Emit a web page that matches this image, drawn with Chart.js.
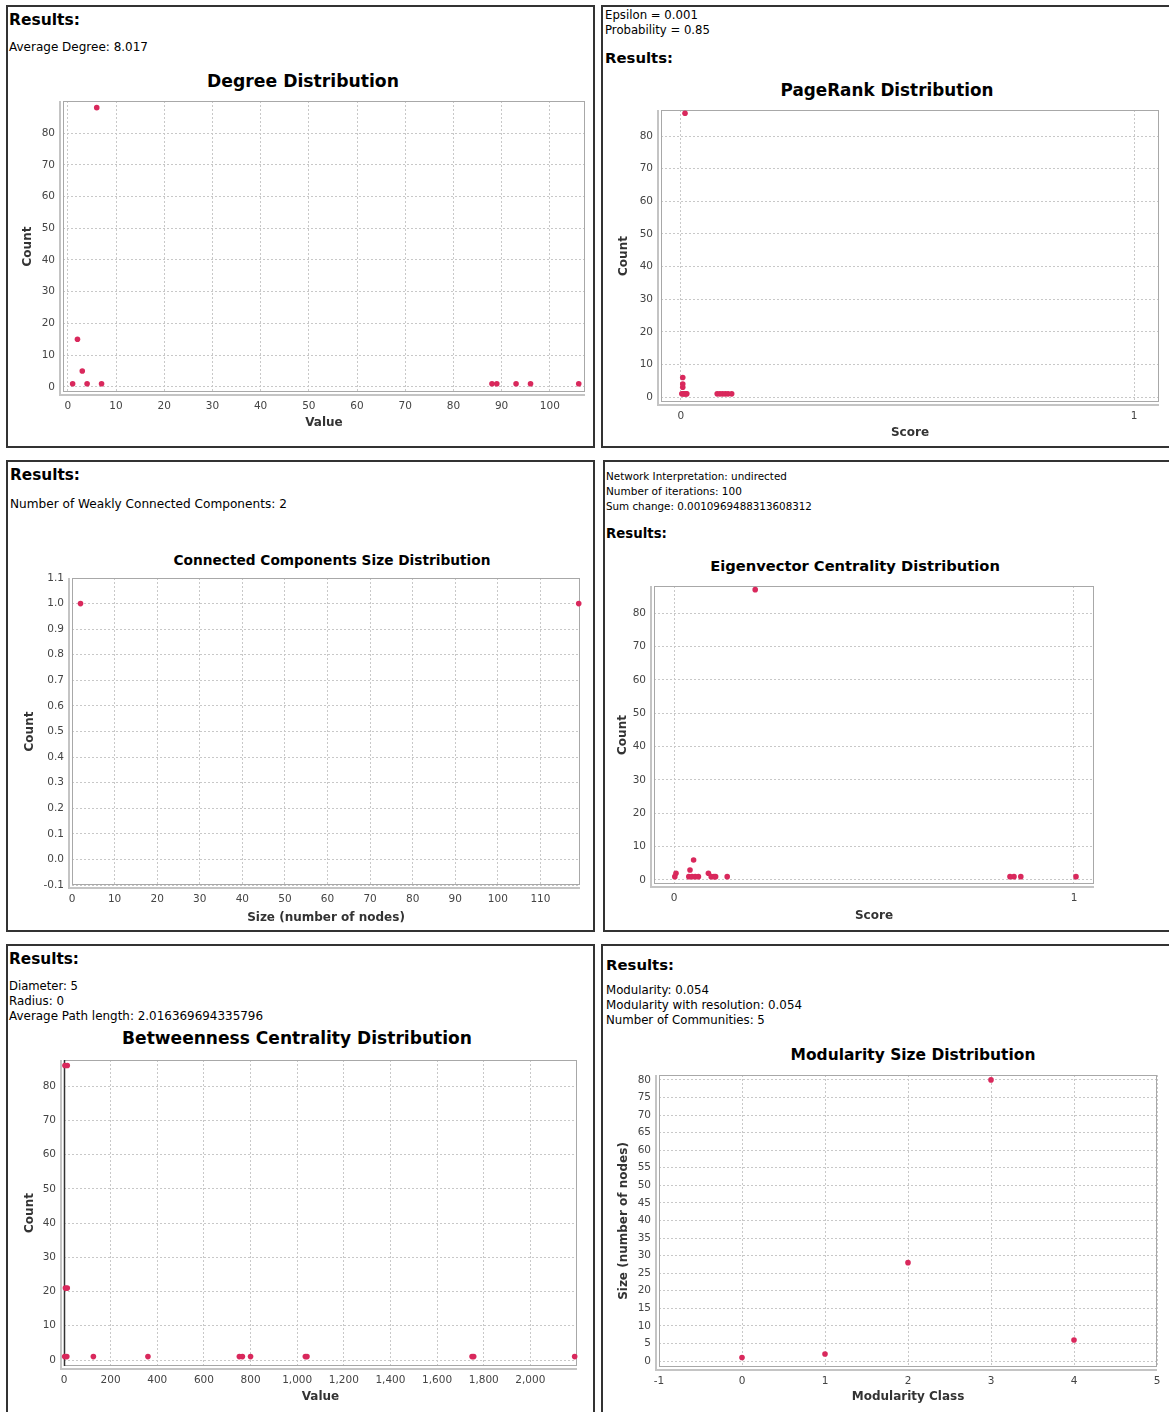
<!DOCTYPE html>
<html>
<head>
<meta charset="utf-8">
<script src="https://cdn.jsdelivr.net/npm/chart.js@4.4.0/dist/chart.umd.min.js"></script>
<style>
  body { margin: 0; background: #fff; width: 1169px; height: 1412px; position: relative; overflow: hidden; font-family: "DejaVu Sans", sans-serif; }
  .panel { position: absolute; box-sizing: border-box; border: 2px solid #333; }
  .txt { position: absolute; white-space: nowrap; line-height: 1; color: #000; transform: translateY(-50%); }
  .txt.b { font-weight: bold; }
  .txt.c { transform: translate(-50%, -50%); font-weight: bold; }
  canvas { position: absolute; }
</style>
</head>
<body>
<div class="panel" style="left:6px;top:5px;width:589px;height:443px"></div>
<div class="panel" style="left:601px;top:5px;width:574px;height:443px"></div>
<div class="panel" style="left:6px;top:460px;width:589px;height:472px"></div>
<div class="panel" style="left:603px;top:460px;width:572px;height:472px"></div>
<div class="panel" style="left:6px;top:944px;width:589px;height:476px"></div>
<div class="panel" style="left:601px;top:944px;width:574px;height:476px"></div>

<div class="txt b" style="left:9px;top:21px" data-w="71">Results:</div>
<div class="txt" style="left:9px;top:47px" data-w="139">Average Degree: 8.017</div>
<div class="txt c" style="left:303px;top:82px" data-w="192">Degree Distribution</div>

<div class="txt" style="left:605px;top:16px" data-w="93">Epsilon = 0.001</div>
<div class="txt" style="left:605px;top:31px" data-w="105">Probability = 0.85</div>
<div class="txt b" style="left:605px;top:58px" data-w="68">Results:</div>
<div class="txt c" style="left:887px;top:90px" data-w="213">PageRank Distribution</div>

<div class="txt b" style="left:10px;top:476px" data-w="70">Results:</div>
<div class="txt" style="left:10px;top:504px" data-w="277">Number of Weakly Connected Components: 2</div>
<div class="txt c" style="left:332px;top:561px" data-w="317">Connected Components Size Distribution</div>

<div class="txt" style="left:606px;top:476px" data-w="181">Network Interpretation: undirected</div>
<div class="txt" style="left:606px;top:491px" data-w="136">Number of iterations: 100</div>
<div class="txt" style="left:606px;top:506px" data-w="206">Sum change: 0.0010969488313608312</div>
<div class="txt b" style="left:606px;top:534px" data-w="61">Results:</div>
<div class="txt c" style="left:855px;top:566px" data-w="290">Eigenvector Centrality Distribution</div>

<div class="txt b" style="left:9px;top:960px" data-w="70">Results:</div>
<div class="txt" style="left:9px;top:987px" data-w="69">Diameter: 5</div>
<div class="txt" style="left:9px;top:1002px" data-w="55">Radius: 0</div>
<div class="txt" style="left:9px;top:1017px" data-w="254">Average Path length: 2.016369694335796</div>
<div class="txt c" style="left:297px;top:1039px" data-w="350">Betweenness Centrality Distribution</div>

<div class="txt b" style="left:606px;top:965px" data-w="68">Results:</div>
<div class="txt" style="left:606px;top:991px" data-w="103">Modularity: 0.054</div>
<div class="txt" style="left:606px;top:1006px" data-w="196">Modularity with resolution: 0.054</div>
<div class="txt" style="left:606px;top:1021px" data-w="159">Number of Communities: 5</div>
<div class="txt c" style="left:913px;top:1056px" data-w="245">Modularity Size Distribution</div>

<canvas id="degreeChart"></canvas>
<canvas id="pagerankChart"></canvas>
<canvas id="componentsChart"></canvas>
<canvas id="eigenChart"></canvas>
<canvas id="betweenChart"></canvas>
<canvas id="modularityChart"></canvas>

<script>
// Degree Distribution
const degreeValues = [1, 2, 3, 4, 6, 7, 88, 89, 93, 96, 106];
const degreeCounts = [1, 15, 5, 1, 88, 1, 1, 1, 1, 1, 1];
const degreeXTicks = [0, 10, 20, 30, 40, 50, 60, 70, 80, 90, 100];
const degreeYTicks = [0, 10, 20, 30, 40, 50, 60, 70, 80];

// PageRank Distribution
const pagerankScores = [0.002, 0.004, 0.004, 0.004, 0.005, 0.009, 0.008, 0.011, 0.013, 0.08, 0.086, 0.092, 0.098, 0.104, 0.112];
const pagerankCounts = [1, 6, 4, 3, 1, 87, 1, 1, 1, 1, 1, 1, 1, 1, 1];
const pagerankXTicks = [0, 1];
const pagerankYTicks = [0, 10, 20, 30, 40, 50, 60, 70, 80];

// Connected Components Size Distribution
const componentSizes = [2, 119];
const componentCounts = [1, 1];
const componentXTicks = [0, 10, 20, 30, 40, 50, 60, 70, 80, 90, 100, 110];
const componentYTicks = [-0.1, 0, 0.1, 0.2, 0.3, 0.4, 0.5, 0.6, 0.7, 0.8, 0.9, 1.0, 1.1];

// Eigenvector Centrality Distribution
const eigenScores = [0.002, 0.005, 0.04, 0.049, 0.037, 0.045, 0.053, 0.061, 0.086, 0.093, 0.1, 0.104, 0.133, 0.203, 0.84, 0.85, 0.867, 1.005];
const eigenCounts = [1, 2, 3, 6, 1, 1, 1, 1, 2, 1, 1, 1, 1, 87, 1, 1, 1, 1];
const eigenXTicks = [0, 1];
const eigenYTicks = [0, 10, 20, 30, 40, 50, 60, 70, 80];

// Betweenness Centrality Distribution
const betweenValues = [4, 14, 6, 14, 3, 12, 126, 360, 752, 765, 800, 1035, 1042, 1750, 1757, 2190];
const betweenCounts = [86, 86, 21, 21, 1, 1, 1, 1, 1, 1, 1, 1, 1, 1, 1, 1];
const betweenXTicks = [0, 200, 400, 600, 800, 1000, 1200, 1400, 1600, 1800, 2000];
const betweenYTicks = [0, 10, 20, 30, 40, 50, 60, 70, 80];

// Modularity Size Distribution
const modularityClasses = [0, 1, 2, 3, 4];
const modularitySizes = [1, 2, 28, 80, 6];
const modularityXTicks = [-1, 0, 1, 2, 3, 4, 5];
const modularityYTicks = [0, 5, 10, 15, 20, 25, 30, 35, 40, 45, 50, 55, 60, 65, 70, 75, 80];

const DOT = '#d9285c';

// fit the html texts to the widths measured on the screenshot
document.querySelectorAll('[data-w]').forEach(el => {
  el.style.fontSize = '100px';
  const w = el.getBoundingClientRect().width;
  el.style.fontSize = (100 * Number(el.dataset.w) / w).toFixed(2) + 'px';
});

const framePlugin = {
  id: 'frame',
  beforeDatasetsDraw(chart, args, opts) {
    const { ctx, chartArea: a } = chart;
    ctx.save();
    ctx.strokeStyle = '#a8a8a8';
    ctx.lineWidth = 1;
    ctx.strokeRect(a.left + 0.5, a.top + 0.5, a.width - 1, a.height - 1);
    ctx.strokeStyle = '#c4c4c4';
    ctx.lineWidth = 2;
    ctx.beginPath();
    ctx.moveTo(a.left - 3, a.top);
    ctx.lineTo(a.left - 3, a.bottom + 3);
    ctx.lineTo(a.right, a.bottom + 3);
    ctx.stroke();
    if (opts.darkLeft) {
      ctx.strokeStyle = '#333';
      ctx.lineWidth = 1.5;
      ctx.beginPath();
      ctx.moveTo(a.left + 0.5, a.top);
      ctx.lineTo(a.left + 0.5, a.bottom);
      ctx.stroke();
    }
    ctx.restore();
  }
};

function makeChart(id, g, xs, ys, ax) {
  const canvas = document.getElementById(id);
  const left = g.yTitleX - 7, top = g.t - 10, right = g.r + 10, bottom = g.xTitleY + 8;
  canvas.width = right - left;
  canvas.height = bottom - top;
  canvas.style.left = left + 'px';
  canvas.style.top = top + 'px';
  const tickFont = { family: 'DejaVu Sans', size: 10.5 };
  const titleFont = { family: 'DejaVu Sans', size: 12, weight: 'bold' };
  new Chart(canvas, {
    type: 'scatter',
    data: {
      datasets: [{
        data: xs.map((x, i) => ({ x, y: ys[i] })),
        backgroundColor: DOT,
        borderColor: DOT,
        borderWidth: 0,
        pointRadius: 2.8,
        pointHoverRadius: 2.8,
        clip: false
      }]
    },
    options: {
      responsive: false,
      animation: false,
      layout: { padding: { top: 10, right: 10, left: 0, bottom: 0 } },
      plugins: { legend: { display: false }, tooltip: { enabled: false }, frame: { darkLeft: !!ax.darkLeft } },
      scales: {
        x: {
          type: 'linear', min: ax.xMin, max: ax.xMax,
          afterBuildTicks: s => { s.ticks = ax.xTicks.map(v => ({ value: v })); },
          afterFit: s => { s.height = bottom - g.b; s.paddingLeft = 0; s.paddingRight = 0; },
          ticks: { padding: 8, color: '#444', font: tickFont, autoSkip: false, maxRotation: 0, callback: ax.xFmt || (v => String(v)) },
          grid: { color: '#c8c8c8', drawTicks: false },
          border: { display: false, dash: [2, 2] },
          title: { display: true, text: ax.xTitle, color: '#333', font: titleFont, padding: 0 }
        },
        y: {
          type: 'linear', min: ax.yMin, max: ax.yMax,
          afterBuildTicks: s => { s.ticks = ax.yTicks.map(v => ({ value: v })); },
          afterFit: s => { s.width = g.l - left; s.paddingTop = 0; s.paddingBottom = 0; },
          ticks: { padding: 8, color: '#444', font: tickFont, autoSkip: false, callback: ax.yFmt || (v => String(v)) },
          grid: { color: '#c8c8c8', drawTicks: false },
          border: { display: false, dash: [2, 2] },
          title: { display: true, text: ax.yTitle, color: '#333', font: titleFont, padding: 0 }
        }
      }
    },
    plugins: [framePlugin]
  });
}

makeChart('degreeChart', { l: 63, t: 101, r: 585, b: 392, yTitleX: 28, xTitleY: 422 },
  degreeValues, degreeCounts,
  { xMin: -1, xMax: 107.3, yMin: -1.6, yMax: 90.1, xTicks: degreeXTicks, yTicks: degreeYTicks, xTitle: 'Value', yTitle: 'Count' });

makeChart('pagerankChart', { l: 661, t: 110, r: 1159, b: 402, yTitleX: 624, xTitleY: 432 },
  pagerankScores, pagerankCounts,
  { xMin: -0.044, xMax: 1.055, yMin: -1.5, yMax: 88, xTicks: pagerankXTicks, yTicks: pagerankYTicks, xTitle: 'Score', yTitle: 'Count' });

makeChart('componentsChart', { l: 72, t: 578, r: 580, b: 885, yTitleX: 30, xTitleY: 917 },
  componentSizes, componentCounts,
  { xMin: 0, xMax: 119.3, yMin: -0.1, yMax: 1.1, xTicks: componentXTicks, yTicks: componentYTicks,
    yFmt: v => v.toFixed(1), xTitle: 'Size (number of nodes)', yTitle: 'Count' });

makeChart('eigenChart', { l: 654, t: 586, r: 1094, b: 884, yTitleX: 623, xTitleY: 915 },
  eigenScores, eigenCounts,
  { xMin: -0.05, xMax: 1.05, yMin: -1.2, yMax: 88.1, xTicks: eigenXTicks, yTicks: eigenYTicks, xTitle: 'Score', yTitle: 'Count' });

makeChart('betweenChart', { l: 64, t: 1060, r: 577, b: 1366, yTitleX: 30, xTitleY: 1396 },
  betweenValues, betweenCounts,
  { xMin: 0, xMax: 2200, yMin: -1.75, yMax: 87.6, xTicks: betweenXTicks, yTicks: betweenYTicks, darkLeft: true,
    xFmt: v => v.toLocaleString('en-US'), xTitle: 'Value', yTitle: 'Count' });

makeChart('modularityChart', { l: 659, t: 1075, r: 1157, b: 1367, yTitleX: 624, xTitleY: 1396 },
  modularityClasses, modularitySizes,
  { xMin: -1, xMax: 5, yMin: -1.7, yMax: 81.4, xTicks: modularityXTicks, yTicks: modularityYTicks,
    xTitle: 'Modularity Class', yTitle: 'Size (number of nodes)' });
</script>
</body>
</html>
